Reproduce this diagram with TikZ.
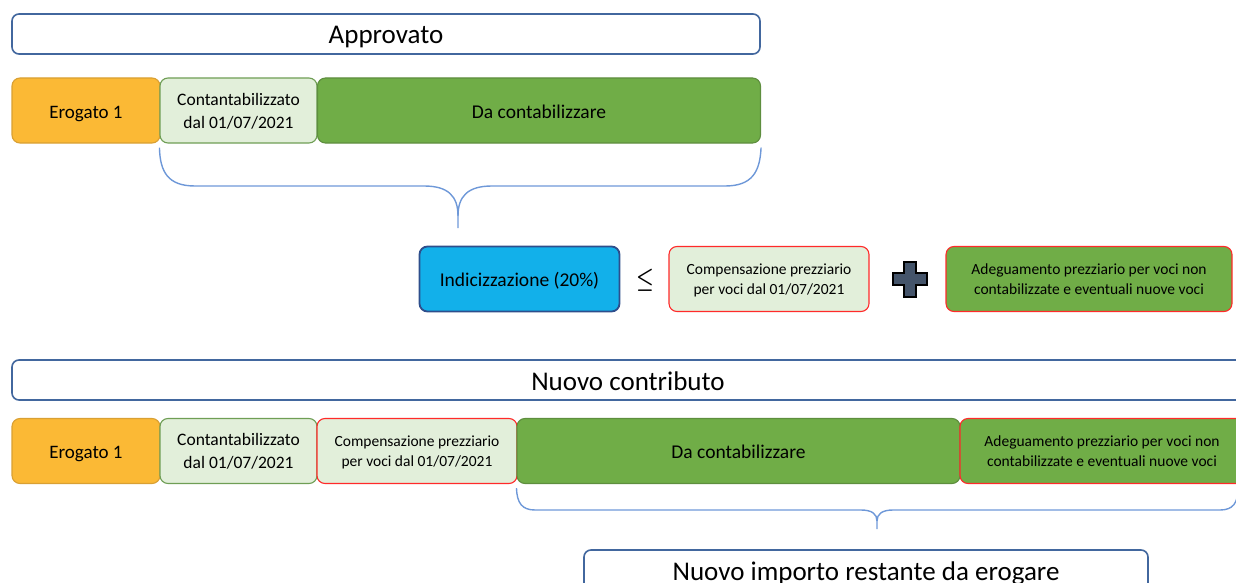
\documentclass[tikz,border=0pt]{standalone}
\usepackage{fontspec}
\usepackage{graphicx}
\setmainfont{Carlito}
\definecolor{orangefill}{HTML}{FBB935}
\definecolor{orangeline}{HTML}{D9A033}
\definecolor{lightfill}{HTML}{E2EFDA}
\definecolor{lightline}{HTML}{6F9E55}
\definecolor{greenfill}{HTML}{70AD47}
\definecolor{greenline}{HTML}{5E8E3E}
\definecolor{redline}{HTML}{FF2A2A}
\definecolor{indexfill}{HTML}{12B0EA}
\definecolor{indexline}{HTML}{2E4E8C}
\definecolor{titleline}{HTML}{42679E}
\definecolor{braceline}{HTML}{6E98D8}
\definecolor{plusfill}{HTML}{44546A}
\begin{document}
\begin{tikzpicture}
		[x=1pt,y=-1pt,
		title/.style={draw=titleline,line width=1.6pt,rounded corners=7pt,fill=white,minimum height=40pt,inner sep=0pt,text height=20pt,text depth=0pt,font=\fontsize{27}{30}\selectfont},
		cell/.style={line width=1.1pt,rounded corners=8pt,minimum height=65pt,inner sep=0pt,align=center,text height=15pt,text depth=0pt,font=\fontsize{19}{23}\selectfont},
		twolines/.style={cell,text height=,text depth=-2pt,font=\fontsize{17.5}{23}\selectfont},
		small/.style={cell,text height=,text depth=-1pt,font=\fontsize{15.5}{20.5}\selectfont},
		erogato/.style={cell,fill=orangefill,draw=orangeline},
		contab/.style={twolines,fill=lightfill,draw=lightline},
		dacont/.style={cell,fill=greenfill,draw=greenline,font=\fontsize{19.5}{23}\selectfont},
		comp/.style={small,fill=lightfill,draw=redline},
		adeg/.style={small,fill=greenfill,draw=redline},
		brace/.style={draw=braceline,line width=1.4pt}]
		\useasboundingbox (0,0) rectangle (1236,583);
		% approvato
		\node[title,minimum width=748pt,name=approvato]at(386,34){Approvato};
		\node[erogato,minimum width=148pt,name=erogato1]at(86,110.5){Erogato 1};
		\node[contab,minimum width=157pt,name=contab1]at(238.5,110.5){Contantabilizzato\\dal 01/07/2021};
		\node[dacont,minimum width=443pt,name=dacont1]at(539,110.5){Da contabilizzare};
		\draw[brace] ([yshift=-4pt]contab1.south west) .. controls (160,172) and (168,186) .. (195,186) -- (424,186) .. controls (448,186) and (458,196) .. (458,216) -- (458,228);
		\draw[brace] (458,216) .. controls (458,196) and (468,186) .. (492,186) -- (725,186) .. controls (752,186) and (760,172) .. ([yshift=-4pt]dacont1.south east);
		% confronto
		\node[cell,fill=indexfill,draw=indexline,line width=1.8pt,minimum width=200pt,font=\fontsize{19.5}{23}\selectfont,name=indic]at(519.5,279){Indicizzazione (20\%)};
		\node[name=leq]at(645,280){\fontsize{33}{33}\selectfont\scalebox{0.8}[1]{\boldmath$\leq$}};
		\node[comp,minimum width=200pt,name=comp1]at(769,279){Compensazione prezziario\\per voci dal 01/07/2021};
		\draw[fill=plusfill,draw=black,line width=1.2pt] (904,262) -- (916,262) -- (916,273) -- (927,273) -- (927,285) -- (916,285) -- (916,297) -- (904,297) -- (904,285) -- (893,285) -- (893,273) -- (904,273) -- cycle;
		\node[adeg,minimum width=286pt,name=adeg1]at(1089,279){Adeguamento prezziario per voci non\\contabilizzate e eventuali nuove voci};
		% nuovo contributo
		\node[title,minimum width=1232pt,name=nuovo]at(628,380){Nuovo contributo};
		\node[erogato,minimum width=148pt,name=erogato2]at(86,451){Erogato 1};
		\node[contab,minimum width=157pt,name=contab2]at(238.5,451){Contantabilizzato\\dal 01/07/2021};
		\node[comp,minimum width=200pt,name=comp2]at(417,451){Compensazione prezziario\\per voci dal 01/07/2021};
		\node[dacont,minimum width=443pt,name=dacont2]at(738.5,451){Da contabilizzare};
		\node[adeg,minimum width=284pt,name=adeg2]at(1102,451){Adeguamento prezziario per voci non\\contabilizzate e eventuali nuove voci};
		\coordinate (braceend) at (1238,488);
		\draw[brace] ([yshift=-4pt]dacont2.south west) .. controls (517,503) and (522,510) .. (535,510) -- (861,510) .. controls (872,510) and (877,514) .. (877,521) -- (877,529);
		\draw[brace] (877,521) .. controls (877,514) and (882,510) .. (893,510) -- (1220,510) .. controls (1233,510) and (1238,503) .. (braceend);
		\node[title,minimum width=564pt,name=restante]at(866,570){Nuovo importo restante da erogare};
	\end{tikzpicture}
\end{document}
